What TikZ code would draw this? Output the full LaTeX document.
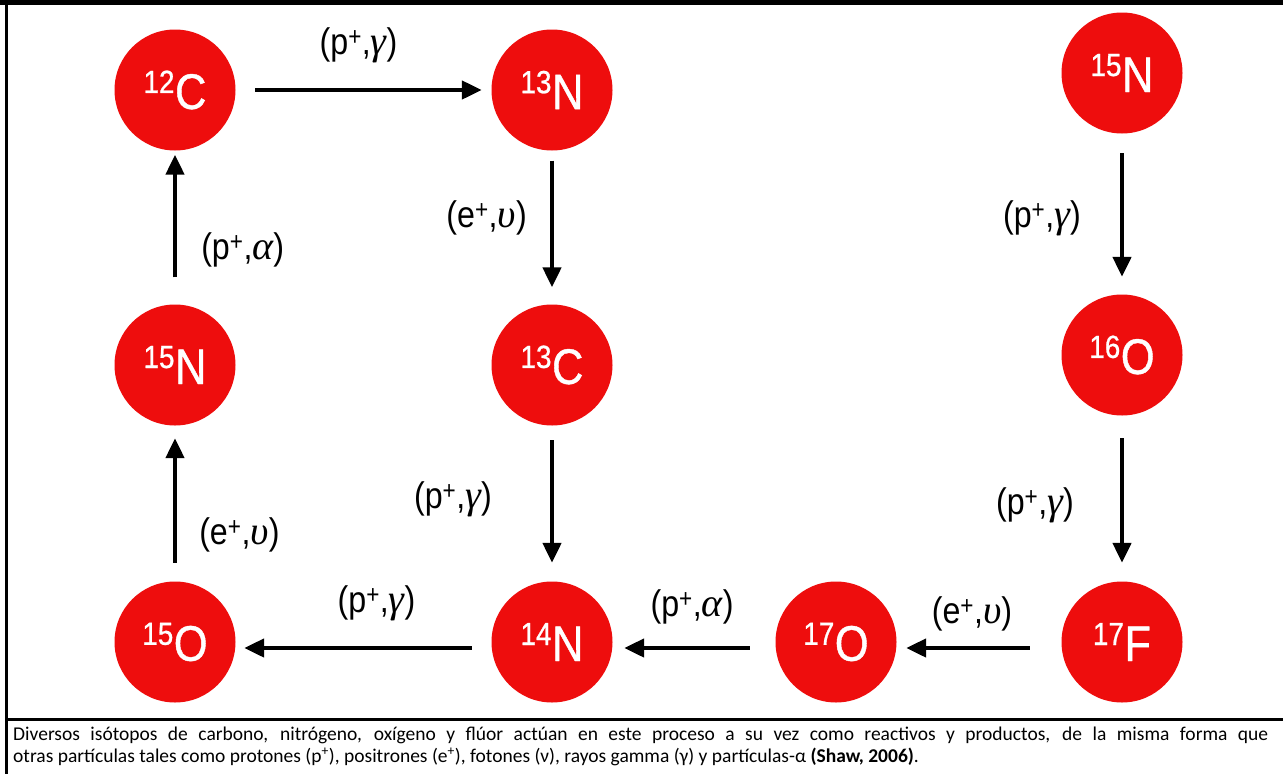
\documentclass[tikz,border=0pt]{standalone}
\usepackage{fontspec}
\setmainfont{Carlito}
\newfontfamily\diagfont[FakeStretch=0.87]{Liberation Sans}
\newfontfamily\nucfont[FakeStretch=0.87, FakeBold=0.8]{Liberation Sans}
\newfontfamily\greekfont{Liberation Serif}
\definecolor{nucleusRed}{HTML}{EE0D0D}
\definecolor{frameBlack}{HTML}{000000}
\usetikzlibrary{calc, positioning, arrows.meta}

\newcommand{\nuclide}[2]{\raisebox{16pt}{\fontsize{32}{32}\selectfont #1}\kern0.5pt{\fontsize{50}{50}\selectfont #2}}
\newcommand{\rxn}[2]{(#1\textsuperscript{+},{\greekfont\itshape\fontsize{40}{40}\selectfont #2})}

\tikzset{
  nucleus/.style={circle, fill=nucleusRed, text=white, minimum size=121pt, inner sep=0pt, font=\nucfont},
  flow/.style={draw=black, line width=4.5pt, -{Triangle[length=20pt, width=18pt]}},
  rxnlabel/.style={font=\diagfont\fontsize{37}{37}\selectfont, inner sep=0pt}
}

\begin{document}
\begin{tikzpicture}[x=1pt, y=-1pt]
  \fill[white] (0,0) rectangle (1283,774);
  \useasboundingbox (0,0) rectangle (1283,774);
  \draw[frameBlack, line width=5pt] (0,2.5) -- (1283,2.5);
  \draw[frameBlack, line width=3.5pt] (6.5,0) -- (6.5,774);
  \draw[frameBlack, line width=3pt] (5,719.5) -- (1283,719.5);

  \node[nucleus] (c12) at (175,90) {\nuclide{12}{C}};
  \node[nucleus] (n13) at (552,90) {\nuclide{13}{N}};
  \node[nucleus] (n15b) at (1122,73) {\nuclide{15}{N}};
  \node[nucleus] (n15) at (175,365) {\nuclide{15}{N}};
  \node[nucleus] (c13) at (552,365) {\nuclide{13}{C}};
  \node[nucleus] (o16) at (1122,355) {\nuclide{16}{O}};
  \node[nucleus] (o15) at (175,642) {\nuclide{15}{O}};
  \node[nucleus] (n14) at (552,642) {\nuclide{14}{N}};
  \node[nucleus] (o17) at (836,642) {\nuclide{17}{O}};
  \node[nucleus] (f17) at (1122,642) {\nuclide{17}{F}};

  \draw[flow, shorten <=19.5pt, shorten >=9.5pt] (c12) -- (n13)
    node[rxnlabel, midway, above=25pt, xshift=-5pt] {\rxn{p}{γ}};
  \draw[flow, shorten <=10pt, shorten >=17pt] (n13) -- (c13)
    node[rxnlabel, midway, left=23pt, yshift=10pt] {\rxn{e}{υ}};
  \draw[flow, shorten <=27pt, shorten >=4pt] (n15) -- (c12)
    node[rxnlabel, midway, right=24pt, yshift=-22pt] {\rxn{p}{α}};
  \draw[flow, shorten <=14.5pt, shorten >=18.5pt] (c13) -- (n14)
    node[rxnlabel, midway, left=58pt, yshift=4pt] {\rxn{p}{γ}};
  \draw[flow, shorten <=18.5pt, shorten >=12.5pt] (o15) -- (n15)
    node[rxnlabel, midway, right=22pt, yshift=-31pt] {\rxn{e}{υ}};
  \draw[flow, shorten <=19.5pt, shorten >=8.5pt] ([yshift=-6pt]n14.west) -- ([yshift=-6pt]o15.east)
    node[rxnlabel, midway, above=25pt, xshift=13pt] {\rxn{p}{γ}};
  \draw[flow, shorten <=25.5pt, shorten >=11.5pt] ([yshift=-6pt]o17.west) -- ([yshift=-6pt]n14.east)
    node[rxnlabel, midway, above=22pt, xshift=-2pt] {\rxn{p}{α}};
  \draw[flow, shorten <=31.5pt, shorten >=9.5pt] ([yshift=-6pt]f17.west) -- ([yshift=-6pt]o17.east)
    node[rxnlabel, midway, above=15pt, xshift=-7pt] {\rxn{e}{υ}};
  \draw[flow, shorten <=19.5pt, shorten >=17.5pt] (n15b) -- (o16)
    node[rxnlabel, midway, left=39pt, yshift=-4pt] {\rxn{p}{γ}};
  \draw[flow, shorten <=22.5pt, shorten >=18.5pt] (o16) -- (f17)
    node[rxnlabel, midway, left=46pt, yshift=-7pt] {\rxn{p}{γ}};

  \node[anchor=north west, inner sep=0pt, text width=1255pt, align=justify,
        font=\fontsize{19.5}{22}\selectfont] (caption) at (13,727) {%
    Diversos isótopos de carbono, nitrógeno, oxígeno y flúor actúan en este proceso a su vez como reactivos y productos, de la misma forma que\linebreak
    otras partículas tales como protones (p\textsuperscript{+}), positrones (e\textsuperscript{+}), fotones (ν), rayos gamma (γ) y partículas-α \textbf{(Shaw, 2006)}.};
\end{tikzpicture}
\end{document}
